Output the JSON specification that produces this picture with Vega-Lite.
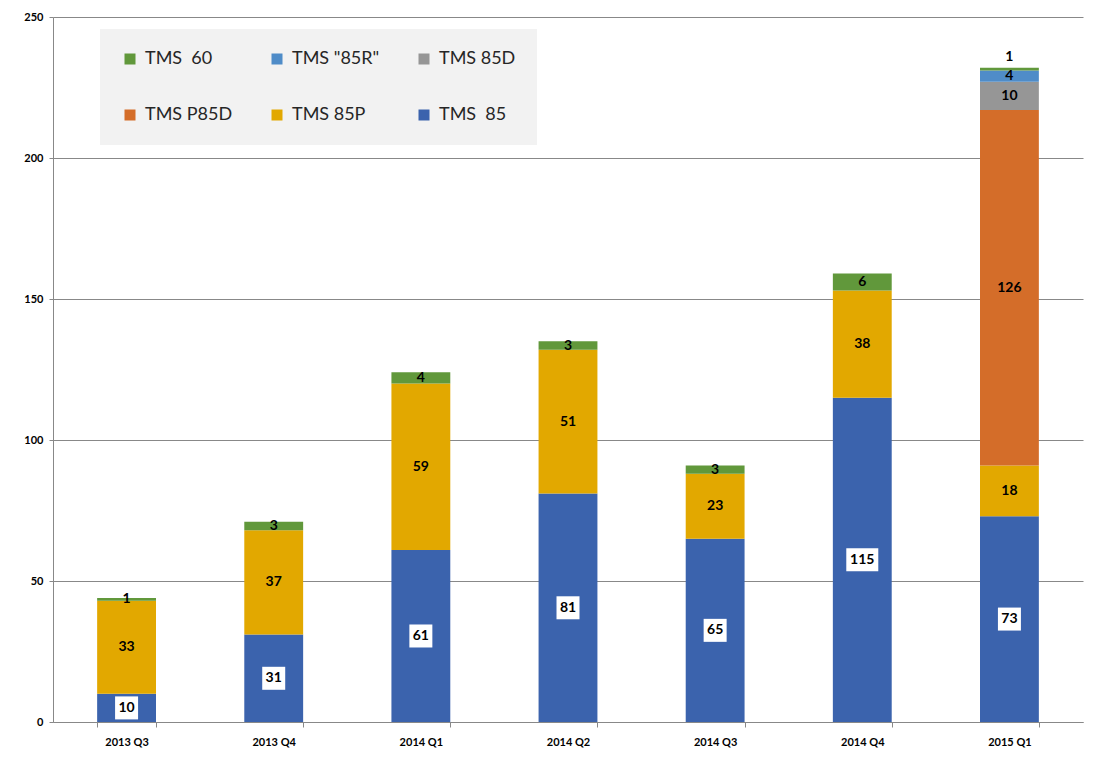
{
  "$schema": "https://vega.github.io/schema/vega-lite/v6.json",
  "width": 1030,
  "height": 705,
  "autosize": "none",
  "padding": {"left": 53, "top": 17, "right": 32, "bottom": 46},
  "background": "white",
  "data": {
    "values": [
      {"quarter": "2013 Q3", "model": "TMS \u00a085", "value": 10},
      {"quarter": "2013 Q3", "model": "TMS 85P", "value": 33},
      {"quarter": "2013 Q3", "model": "TMS \u00a060", "value": 1},
      {"quarter": "2013 Q4", "model": "TMS \u00a085", "value": 31},
      {"quarter": "2013 Q4", "model": "TMS 85P", "value": 37},
      {"quarter": "2013 Q4", "model": "TMS \u00a060", "value": 3},
      {"quarter": "2014 Q1", "model": "TMS \u00a085", "value": 61},
      {"quarter": "2014 Q1", "model": "TMS 85P", "value": 59},
      {"quarter": "2014 Q1", "model": "TMS \u00a060", "value": 4},
      {"quarter": "2014 Q2", "model": "TMS \u00a085", "value": 81},
      {"quarter": "2014 Q2", "model": "TMS 85P", "value": 51},
      {"quarter": "2014 Q2", "model": "TMS \u00a060", "value": 3},
      {"quarter": "2014 Q3", "model": "TMS \u00a085", "value": 65},
      {"quarter": "2014 Q3", "model": "TMS 85P", "value": 23},
      {"quarter": "2014 Q3", "model": "TMS \u00a060", "value": 3},
      {"quarter": "2014 Q4", "model": "TMS \u00a085", "value": 115},
      {"quarter": "2014 Q4", "model": "TMS 85P", "value": 38},
      {"quarter": "2014 Q4", "model": "TMS \u00a060", "value": 6},
      {"quarter": "2015 Q1", "model": "TMS \u00a085", "value": 73},
      {"quarter": "2015 Q1", "model": "TMS 85P", "value": 18},
      {"quarter": "2015 Q1", "model": "TMS P85D", "value": 126},
      {"quarter": "2015 Q1", "model": "TMS 85D", "value": 10},
      {"quarter": "2015 Q1", "model": "TMS \"85R\"", "value": 4},
      {"quarter": "2015 Q1", "model": "TMS \u00a060", "value": 1}
    ]
  },
  "transform": [
    {"calculate": "indexof(['TMS \u00a085','TMS 85P','TMS P85D','TMS 85D','TMS \"85R\"','TMS \u00a060'], datum.model)", "as": "rank"},
    {"stack": "value", "groupby": ["quarter"], "sort": [{"field": "rank", "order": "ascending"}], "as": ["y0", "y1"]},
    {"calculate": "(datum.y0 + datum.y1) / 2", "as": "mid"}
  ],
  "encoding": {
    "x": {
      "field": "quarter",
      "type": "nominal",
      "scale": {"paddingInner": 0.6, "paddingOuter": 0.3},
      "axis": {
        "title": null,
        "labelAngle": 0,
        "tickBand": "extent",
        "labelFont": "Lato",
        "labelFontWeight": "bold",
        "labelFontSize": 11,
        "labelColor": "#000000",
        "labelPadding": 9,
        "tickSize": 5,
        "tickColor": "#888888",
        "domainColor": "#888888",
        "grid": false
      }
    }
  },
  "layer": [
    {
      "mark": {"type": "bar"},
      "encoding": {
        "y": {
          "field": "y0",
          "type": "quantitative",
          "scale": {"domain": [0, 250], "nice": false},
          "axis": {
            "title": null,
            "values": [0, 50, 100, 150, 200, 250],
            "grid": true,
            "gridColor": "#888888",
            "domainColor": "#888888",
            "tickColor": "#888888",
            "tickSize": 4,
            "labelFont": "Lato",
            "labelFontWeight": "bold",
            "labelFontSize": 11,
            "labelColor": "#000000",
            "labelPadding": 6
          }
        },
        "y2": {"field": "y1"},
        "color": {
          "field": "model",
          "type": "nominal",
          "scale": {
            "domain": ["TMS \u00a060", "TMS \"85R\"", "TMS 85D", "TMS P85D", "TMS 85P", "TMS \u00a085"],
            "range": ["#61983b", "#4f8cc8", "#969696", "#d46d29", "#e2a800", "#3b63ad"]
          },
          "legend": {
            "title": null,
            "orient": "none",
            "direction": "horizontal",
            "legendX": 47,
            "legendY": 12,
            "columns": 3,
            "fillColor": "#f2f2f2",
            "padding": 21,
            "gridAlign": "all",
            "columnPadding": 35,
            "rowPadding": 38,
            "symbolType": "square",
            "symbolSize": 121,
            "symbolStrokeWidth": 0,
            "labelFont": "Lato",
            "labelFontSize": 18,
            "labelColor": "#262626",
            "labelOffset": 6
          }
        }
      }
    },
    {
      "transform": [{"filter": "datum.model == 'TMS \u00a085'"}],
      "mark": {"type": "point", "filled": true, "color": "white", "opacity": 1, "strokeWidth": 0},
      "encoding": {
        "y": {"field": "mid", "type": "quantitative"},
        "shape": {
          "condition": {"test": "datum.value >= 100", "value": "M-1,-0.72H1V0.72H-1Z"},
          "value": "square"
        },
        "size": {
          "condition": {"test": "datum.value >= 100", "value": 1024},
          "value": 529
        }
      }
    },
    {
      "transform": [{"filter": "!(datum.quarter == '2015 Q1' && datum.model == 'TMS \u00a060')"}],
      "mark": {"type": "text", "font": "Lato", "fontWeight": "bold", "fontSize": 14, "color": "#000000", "baseline": "middle"},
      "encoding": {
        "y": {"field": "mid", "type": "quantitative"},
        "text": {"field": "value", "type": "quantitative"}
      }
    },
    {
      "transform": [{"filter": "datum.quarter == '2015 Q1' && datum.model == 'TMS \u00a060'"}],
      "mark": {"type": "text", "font": "Lato", "fontWeight": "bold", "fontSize": 14, "color": "#000000", "baseline": "middle", "dy": -12},
      "encoding": {
        "y": {"field": "mid", "type": "quantitative"},
        "text": {"field": "value", "type": "quantitative"}
      }
    }
  ],
  "config": {
    "view": {"stroke": null},
    "axis": {"domainWidth": 1, "gridWidth": 1}
  }
}
